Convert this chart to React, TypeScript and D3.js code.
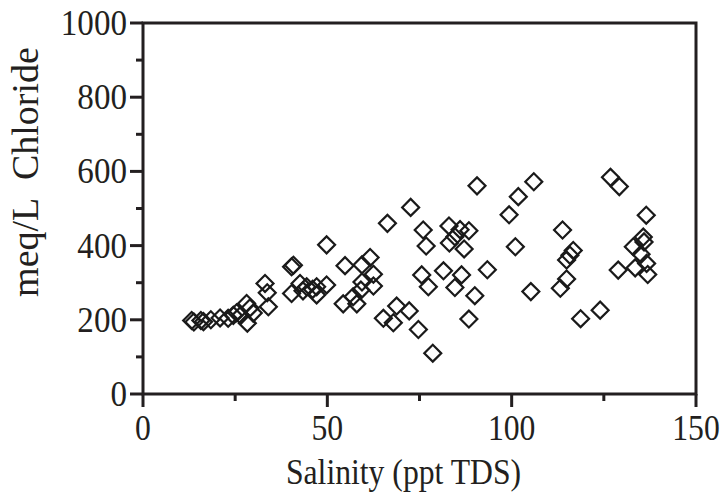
import React from "react";
import * as d3 from "d3";

const salinity = [
  13.2, 13.8, 15.7, 16.4, 18.4, 20.9, 23.1, 24.5, 25.4, 26.5, 28.1, 28.3, 29.9, 29.0, 33.1, 33.7, 34.0,
  40.3, 40.8, 42.6, 40.3, 43.4, 44.4, 47.1, 47.1, 46.0, 49.8, 49.8,
  54.8, 54.3, 58.0, 57.0, 59.1, 59.4, 59.4, 61.6, 62.5, 62.5,
  65.2, 67.9, 68.8, 72.2, 74.7, 78.6, 66.3, 72.6, 76.0, 76.8, 75.6, 77.4, 81.5, 84.6, 86.4,
  83.0, 83.1, 86.0, 88.4, 87.1, 84.6, 90.0, 88.4, 93.4, 90.6, 99.3, 101.8, 101.0, 105.2, 106.0,
  113.8, 116.7, 114.9, 115.8, 114.9, 113.2, 118.7, 124.0, 126.8, 129.2, 136.5, 128.9, 133.0,
  135.7, 135.9, 135.1, 136.6, 133.5, 136.9,
];
const chloride = [
  198, 194, 198, 195, 200, 205, 204, 212, 219, 212, 244, 191, 218, 232, 298, 273, 235,
  343, 347, 298, 271, 278, 289, 289, 267, 282, 294, 402,
  346, 243, 243, 262, 280, 302, 348, 368, 323, 291,
  204, 192, 237, 224, 174, 110, 460, 503, 442, 399, 321, 289, 332, 287, 321,
  453, 407, 443, 440, 391, 424, 265, 202, 335, 561, 483, 532, 397, 276, 572,
  442, 387, 361, 374, 310, 285, 203, 226, 584, 559, 482, 334, 397,
  423, 410, 377, 352, 340, 322,
];

const xTicks = [0, 50, 100, 150];
const xMinor = [25, 75, 125];
const yTicks = [0, 200, 400, 600, 800, 1000];
const yMinor = [100, 300, 500, 700, 900];

const W = 727;
const H = 494;
const left = 143;
const right = 696;
const top = 23;
const bottom = 394;

export default function App() {
  const x = d3.scaleLinear().domain([0, 150]).range([left, right]);
  const y = d3.scaleLinear().domain([0, 1000]).range([bottom, top]);
  const sym = d3.symbol().type(d3.symbolSquare).size(144)();
  const font = "'Liberation Serif', 'Times New Roman', serif";
  const ink = "#231f20";
  const axisW = 3;
  const major = 13;
  const minor = 7;
  const fs = 36;
  const sx = 0.88;

  return (
    <svg
      width={W}
      height={H}
      style={{ position: "absolute", left: 0, top: 0, background: "#fff" }}
    >
      <rect x={0} y={0} width={W} height={H} fill="#fff" />
      <g>
        {salinity.map((s, i) => (
          <path
            key={i}
            d={sym}
            transform={`translate(${x(s)},${y(chloride[i])}) rotate(45)`}
            fill="none"
            stroke="#1a1a1a"
            strokeWidth={2.2}
          />
        ))}
      </g>
      <rect
        x={left}
        y={top}
        width={right - left}
        height={bottom - top}
        fill="none"
        stroke={ink}
        strokeWidth={axisW}
      />
      {xTicks.map((t) => (
        <g key={"xt" + t}>
          <line x1={x(t)} x2={x(t)} y1={bottom} y2={bottom + major} stroke={ink} strokeWidth={axisW} />
          <text
            transform={`translate(${x(t)},${bottom + 46}) scale(${sx},1)`}
            textAnchor="middle"
            fontFamily={font}
            fontSize={fs}
            fill={ink}
          >
            {t}
          </text>
        </g>
      ))}
      {xMinor.map((t) => (
        <line key={"xm" + t} x1={x(t)} x2={x(t)} y1={bottom} y2={bottom + minor} stroke={ink} strokeWidth={axisW} />
      ))}
      {yTicks.map((t) => (
        <g key={"yt" + t}>
          <line x1={left - major} x2={left} y1={y(t)} y2={y(t)} stroke={ink} strokeWidth={axisW} />
          <text
            transform={`translate(${left - 16},${y(t) + 12}) scale(0.92,1)`}
            textAnchor="end"
            fontFamily={font}
            fontSize={fs}
            fill={ink}
          >
            {t}
          </text>
        </g>
      ))}
      {yMinor.map((t) => (
        <line key={"ym" + t} x1={left - minor} x2={left} y1={y(t)} y2={y(t)} stroke={ink} strokeWidth={axisW} />
      ))}
      <text
        transform={`translate(${(left + right) / 2 - 16},484) scale(${sx},1)`}
        textAnchor="middle"
        fontFamily={font}
        fontSize={fs}
        fill={ink}
      >
        Salinity (ppt TDS)
      </text>
      <text
        transform={`translate(38,172) rotate(-90)`}
        textAnchor="middle"
        fontFamily={font}
        fontSize={38}
        fill={ink}
        style={{ whiteSpace: "pre" }}
      >
        {"meq/L  Chloride"}
      </text>
    </svg>
  );
}
